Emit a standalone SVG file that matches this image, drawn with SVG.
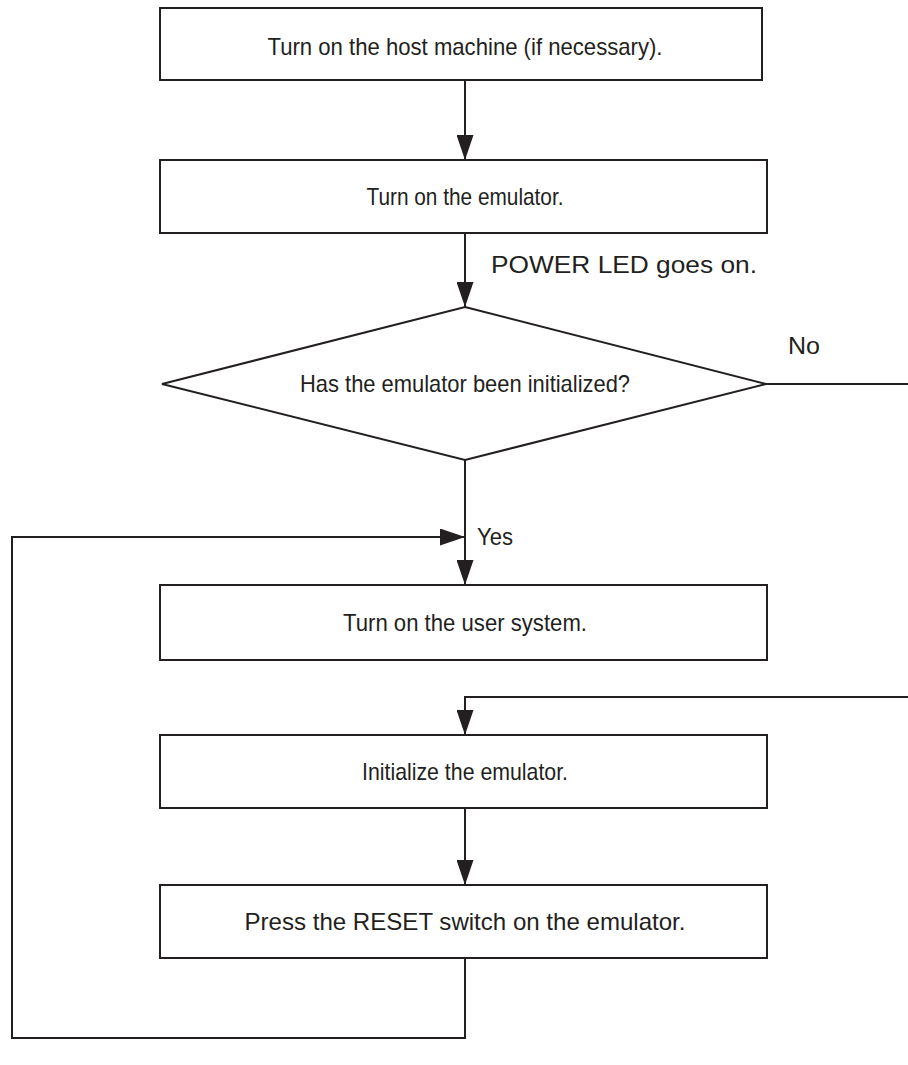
<svg xmlns="http://www.w3.org/2000/svg" width="908" height="1065" viewBox="0 0 908 1065">
<style>
.box{fill:#fff;stroke:#231f20;stroke-width:2}
.ln{fill:none;stroke:#231f20;stroke-width:2}
.t{font-family:"Liberation Sans",Arial,sans-serif;font-size:24px;fill:#231f20}
.c{text-anchor:middle}
</style>
<defs>
<marker id="ah" markerUnits="userSpaceOnUse" markerWidth="25" markerHeight="17" refX="25" refY="8.5" orient="auto">
<path d="M0,0 L25,8.5 L0,17 Z" fill="#231f20"/>
</marker>
</defs>
<g id="connectors">
<line class="ln" x1="465" y1="80" x2="465" y2="160" marker-end="url(#ah)"/>
<line class="ln" x1="465" y1="233" x2="465" y2="307" marker-end="url(#ah)"/>
<line class="ln" x1="766" y1="384" x2="908" y2="384"/>
<line class="ln" x1="465" y1="460" x2="465" y2="585" marker-end="url(#ah)"/>
<polyline class="ln" points="908,697 465,697 465,735" marker-end="url(#ah)"/>
<line class="ln" x1="465" y1="808" x2="465" y2="885" marker-end="url(#ah)"/>
<polyline class="ln" points="465,958 465,1038 12,1038 12,537 465,537" marker-end="url(#ah)"/>
<text class="t" x="491" y="273" textLength="266" lengthAdjust="spacingAndGlyphs">POWER LED goes on.</text>
<text class="t" x="788" y="354" textLength="32" lengthAdjust="spacingAndGlyphs">No</text>
<text class="t" x="477" y="545" textLength="36" lengthAdjust="spacingAndGlyphs">Yes</text>
</g>
<g id="n1">
<rect class="box" x="160" y="8" width="602" height="72"/>
<text class="t c" x="465" y="55" textLength="395" lengthAdjust="spacingAndGlyphs">Turn on the host machine (if necessary).</text>
</g>
<g id="n2">
<rect class="box" x="160" y="160" width="607" height="73"/>
<text class="t c" x="465" y="205" textLength="197" lengthAdjust="spacingAndGlyphs">Turn on the emulator.</text>
</g>
<g id="n3">
<polygon class="box" points="465,307 766,384 465,460 162,384"/>
<text class="t c" x="465" y="392" textLength="330" lengthAdjust="spacingAndGlyphs">Has the emulator been initialized?</text>
</g>
<g id="n4">
<rect class="box" x="160" y="585" width="607" height="75"/>
<text class="t c" x="465" y="631" textLength="244" lengthAdjust="spacingAndGlyphs">Turn on the user system.</text>
</g>
<g id="n5">
<rect class="box" x="160" y="735" width="607" height="73"/>
<text class="t c" x="465" y="780" textLength="206" lengthAdjust="spacingAndGlyphs">Initialize the emulator.</text>
</g>
<g id="n6">
<rect class="box" x="160" y="885" width="607" height="73"/>
<text class="t c" x="465" y="930" textLength="441" lengthAdjust="spacingAndGlyphs">Press the RESET switch on the emulator.</text>
</g>
</svg>
